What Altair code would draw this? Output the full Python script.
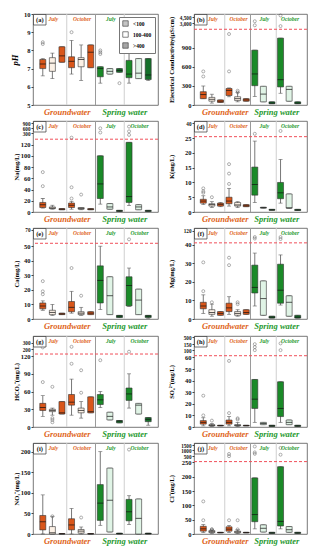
import altair as alt
import numpy as np
import pandas as pd

# ---------------- layout of the boxes ----------------
SLOTS = list(range(1, 13))
WATER = ["Groundwater"] * 6 + ["Spring water"] * 6
MONTH = (["July"] * 3 + ["October"] * 3) * 2
CLASS = ["<100", "100-400", ">400"] * 4
GROUP_X = [2, 5, 8, 11]
GROUP_LABELS = ["July", "October", "July", "October"]
GROUP_WATER = ["Groundwater", "Groundwater", "Spring water", "Spring water"]
SEP_X = [3.5, 6.5, 9.5]
LEGEND_CLASSES = ["<100", "100-400", ">400"]

# ---------------- (a) pH ----------------
PH_LOW = [6.6, 6.45, 7.35, 6.7, 6.35, 7.05, 6.2, 6.7, 6.8, 6.2, 6.45, 6.35]
PH_Q1 = [7.0, 6.85, 7.35, 7.05, 7.1, 7.05, 6.55, 6.7, 6.8, 6.5, 6.45, 6.4]
PH_MED = [7.25, 7.3, 7.7, 7.4, 7.5, 7.9, 7.0, 6.85, 6.9, 6.7, 6.75, 6.65]
PH_Q3 = [7.5, 7.6, 8.2, 7.65, 7.6, 8.3, 7.1, 7.0, 7.0, 7.45, 7.55, 7.55]
PH_HIGH = [7.55, 7.85, 8.2, 8.55, 8.3, 8.3, 7.1, 7.0, 7.0, 8.05, 7.55, 7.55]
PH_OUT = [[8.35, 8.45], [], [], [9.0], [], [], [7.8, 7.9, 8.0], [], [6.2], [], [], []]

# ---------------- (b) EC ----------------
EC_LOW = [100, 30, 40, 130, 50, 60, 135, 50, 20, 185, 60, 20]
EC_Q1 = [100, 60, 40, 150, 70, 60, 305, 50, 20, 285, 60, 20]
EC_MED = [165, 90, 60, 230, 100, 80, 490, 172, 30, 400, 246, 30]
EC_Q3 = [210, 120, 80, 260, 130, 100, 865, 295, 50, 1055, 295, 50]
EC_HIGH = [300, 170, 80, 270, 200, 100, 865, 295, 50, 1055, 295, 50]
EC_OUT = [[450, 530], [], [], [530, 1120], [200, 225], [], [2500, 3500], [], [], [2300, 4900], [], []]

# ---------------- (c) Na ----------------
NA_LOW = [7, 5, 4, 5, 4, 4, 14, 5, 1, 11.5, 4, 1]
NA_Q1 = [8, 6, 4, 8, 5, 4, 24, 5, 1, 17, 4, 1]
NA_MED = [13, 7, 5, 12, 6, 5, 50, 9, 2, 27.5, 9, 2]
NA_Q3 = [17, 9, 6, 16, 8, 6, 100, 15, 3, 124, 13, 3]
NA_HIGH = [24, 12, 6, 19, 8, 6, 100, 15, 3, 124, 13, 3]
NA_OUT = [[46, 71], [], [], [24, 44, 190], [31], [], [350, 600], [], [], [260, 420, 700], [], []]

# ---------------- (d) K ----------------
K_LOW = [2.5, 1.5, 1.8, 2.0, 1.5, 1.8, 3.2, 1.3, 0.6, 3.0, 1.3, 0.5]
K_Q1 = [3.0, 2.0, 2.0, 2.8, 2.0, 1.8, 5.7, 1.3, 0.6, 4.5, 1.3, 0.5]
K_MED = [3.7, 2.5, 2.6, 3.7, 2.4, 2.1, 9.3, 1.5, 0.7, 6.5, 1.4, 0.7]
K_Q3 = [4.3, 2.8, 3.0, 5.0, 3.2, 2.5, 15.2, 1.6, 0.9, 10.0, 6.1, 0.9]
K_HIGH = [5.5, 3.5, 3.2, 8.0, 3.5, 2.5, 24.0, 1.6, 0.9, 17.8, 6.1, 0.9]
K_OUT = [[6.5, 7.0, 8.0], [5.0], [], [9.5, 13.0, 16.2], [], [], [29.0], [], [], [32.0], [], []]

# ---------------- (e) Ca ----------------
CA_LOW = [6, 2.5, 3, 4, 2.5, 3, 6.5, 3, 1, 8.5, 3, 0.5]
CA_Q1 = [7, 3, 3, 5, 3, 3, 11, 3, 1, 9, 3, 1]
CA_MED = [9, 4.5, 3.5, 8, 4, 4, 26.5, 16, 2, 23, 13, 2]
CA_Q3 = [11, 6, 4, 12, 5, 5, 36.5, 29, 2.5, 29, 20.5, 2.5]
CA_HIGH = [12.5, 10, 4, 19, 8, 5, 50, 29, 2.5, 35, 20.5, 2.5]
CA_OUT = [[17, 19, 26], [], [], [35], [16], [], [], [], [], [58], [], []]

# ---------------- (f) Mg ----------------
MG_LOW = [3, 1.5, 2, 2.5, 1.5, 2.5, 7, 2, 0.5, 7.5, 1.5, 0.5]
MG_Q1 = [5.5, 2.5, 2, 4, 2, 2.5, 14, 2, 0.5, 8.5, 1.5, 0.5]
MG_MED = [7, 3.5, 3, 6, 3, 3.5, 17, 11, 1, 15.5, 9, 1]
MG_Q3 = [9, 5, 4, 8.5, 4, 5, 29, 20.5, 1.5, 29.5, 12.5, 2]
MG_HIGH = [13, 8, 4, 12, 5, 5, 35.5, 20.5, 1.5, 34.5, 12.5, 2]
MG_OUT = [[15, 30.5], [9], [], [29, 33], [8, 9], [], [70, 80], [], [], [67, 80], [], []]

# ---------------- (g) HCO3 ----------------
HC_LOW = [18, 20, 22, 20, 15, 24, 33, 12, 7, 32, 22, 3]
HC_Q1 = [28, 26, 22, 37, 24, 24, 38, 12, 7, 45, 22, 9]
HC_MED = [33, 28, 24, 42, 28, 26, 46, 18, 10, 56, 37, 13]
HC_Q3 = [40, 30, 43, 55, 32, 51, 55, 25, 11, 66, 40, 16]
HC_HIGH = [53, 32, 43, 81, 43, 51, 60, 25, 11, 90, 40, 16]
HC_OUT = [[76, 229], [8, 12, 15, 68], [], [107, 238], [58, 96], [], [113], [], [], [162], [], []]

# ---------------- (h) SO4 ----------------
SO_LOW = [1, 0.5, 1, 1, 0.5, 1, 4, 2, 0.5, 4, 2, 0.5]
SO_Q1 = [2.5, 1, 1, 2.5, 1, 1, 16, 2, 0.5, 9, 2, 0.5]
SO_MED = [4, 1.5, 1.2, 4, 1.5, 1.2, 24, 3, 1, 16, 4, 1]
SO_Q3 = [5.5, 2, 1.5, 6, 2, 1.5, 41, 4, 1.5, 39, 6, 1.5]
SO_HIGH = [8, 3, 1.5, 9, 4, 1.5, 41, 4, 1.5, 39, 6, 1.5]
SO_OUT = [[10, 27], [5.5], [], [12, 57], [6.5, 7.5], [], [103, 128, 165], [], [], [103, 200], [], []]

# ---------------- (i) NO3 ----------------
NO_LOW = [0, 0, 0, 0, 0, 0, 21, 5, 0, 23, 0, 0]
NO_Q1 = [10, 0, 0, 10, 2, 0, 33, 5, 0, 32, 0, 0]
NO_MED = [30, 3, 0.5, 22, 7, 0.5, 75, 82, 1, 54, 38, 1]
NO_Q3 = [45, 18, 1, 37, 11, 1, 120, 160, 2, 84, 85, 2]
NO_HIGH = [95, 43, 1, 62, 17, 1, 200, 160, 2, 93, 85, 2]
NO_OUT = [[], [43], [], [], [40], [], [], [], [], [205], [], []]

# ---------------- (j) Cl ----------------
CL_LOW = [5, 2, 4, 5, 2, 4, 18, 7, 2, 18, 6, 2]
CL_Q1 = [10, 5, 4, 10, 4, 4, 43, 7, 2, 28, 6, 2]
CL_MED = [18, 8, 5, 17, 7, 5, 68, 20, 4, 44, 15, 4]
CL_Q3 = [27, 12, 6, 25, 10, 6, 196, 32, 6, 235, 26, 6]
CL_HIGH = [33, 15, 6, 30, 15, 6, 196, 32, 6, 235, 26, 6]
CL_OUT = [[48, 114], [15, 17], [], [48, 500, 690], [16, 48], [], [700, 830, 1360], [], [], [625, 1230], [], []]

# ---------------- broken y axes: lower ticks, break, upper segment ----------------
PANELS = [
    dict(tag="(a)", title="pH", italic=True, low=PH_LOW, q1=PH_Q1, med=PH_MED, q3=PH_Q3, high=PH_HIGH, out=PH_OUT,
         top=10, bottom=5, ticks=[5, 6, 7, 8, 9, 10], brk=None, up_real=None, up_disp=None, up_ticks=[], up_labels=[]),
    dict(tag="(b)", title="Electrical Conductivity(μS/cm)", italic=False, low=EC_LOW, q1=EC_Q1, med=EC_MED, q3=EC_Q3, high=EC_HIGH, out=EC_OUT,
         top=1436, bottom=0, ticks=[0, 300, 600, 900], brk=1195, up_real=[1500, 3000, 4500, 5250], up_disp=[1195, 1289, 1387, 1436],
         up_ticks=[3000, 4500], up_labels=["3,000", "4,500"]),
    dict(tag="(c)", title="Na(mg/L)", italic=False, low=NA_LOW, q1=NA_Q1, med=NA_MED, q3=NA_Q3, high=NA_HIGH, out=NA_OUT,
         top=162, bottom=0, ticks=[0, 20, 40, 60, 80, 100, 120], brk=129.6, up_real=[150, 300, 600, 900, 1000], up_disp=[129.6, 140, 149, 158, 162],
         up_ticks=[300, 600, 900], up_labels=["300", "600", "900"]),
    dict(tag="(d)", title="K(mg/L)", italic=False, low=K_LOW, q1=K_Q1, med=K_MED, q3=K_Q3, high=K_HIGH, out=K_OUT,
         top=30.8, bottom=0, ticks=[0, 5, 10, 15, 20, 25], brk=25.5, up_real=[26, 40, 42], up_disp=[25.5, 30.0, 30.8],
         up_ticks=[40], up_labels=["40"]),
    dict(tag="(e)", title="Ca(mg/L)", italic=False, low=CA_LOW, q1=CA_Q1, med=CA_MED, q3=CA_Q3, high=CA_HIGH, out=CA_OUT,
         top=62.5, bottom=0, ticks=[0, 10, 20, 30, 40, 50], brk=52, up_real=[53, 70, 72], up_disp=[52, 61.2, 62.5],
         up_ticks=[70], up_labels=["70"]),
    dict(tag="(f)", title="Mg(mg/L)", italic=False, low=MG_LOW, q1=MG_Q1, med=MG_MED, q3=MG_Q3, high=MG_HIGH, out=MG_OUT,
         top=49, bottom=0, ticks=[0, 10, 20, 30, 40], brk=41, up_real=[42, 120, 130], up_disp=[41, 47.4, 49],
         up_ticks=[120], up_labels=["120"]),
    dict(tag="(g)", title="HCO₃⁻(mg/L)", italic=False, low=HC_LOW, q1=HC_Q1, med=HC_MED, q3=HC_Q3, high=HC_HIGH, out=HC_OUT,
         top=154, bottom=0, ticks=[0, 30, 60, 90, 120], brk=123.5, up_real=[125, 200, 300, 400], up_disp=[123.5, 131.5, 142.5, 154],
         up_ticks=[200, 300], up_labels=["200", "300"]),
    dict(tag="(h)", title="SO₄²⁻(mg/L)", italic=False, low=SO_LOW, q1=SO_Q1, med=SO_MED, q3=SO_Q3, high=SO_HIGH, out=SO_OUT,
         top=78.5, bottom=0, ticks=[0, 10, 20, 30, 40, 50, 60], brk=61.5, up_real=[62, 100, 150, 500, 600], up_disp=[61.5, 66, 71.2, 77.6, 78.5],
         up_ticks=[100, 150, 500], up_labels=["100", "150", "500"]),
    dict(tag="(i)", title="NO₃⁻(mg/L)", italic=False, low=NO_LOW, q1=NO_Q1, med=NO_MED, q3=NO_Q3, high=NO_HIGH, out=NO_OUT,
         top=221, bottom=0, ticks=[0, 50, 100, 150, 200], brk=None, up_real=None, up_disp=None, up_ticks=[], up_labels=[]),
    dict(tag="(j)", title="Cl⁻(mg/L)", italic=False, low=CL_LOW, q1=CL_Q1, med=CL_MED, q3=CL_Q3, high=CL_HIGH, out=CL_OUT,
         top=318, bottom=0, ticks=[0, 50, 100, 150, 200, 250], brk=253, up_real=[260, 500, 1000, 1500, 1800], up_disp=[254, 272, 292, 311, 318],
         up_ticks=[500, 1000, 1500], up_labels=["500", "1000", "1500"]),
]

# ---------------- styling ----------------
FONT = "Liberation Serif"
ORANGE = "#e0641a"
GREEN = "#1f9a2f"
BOX_FILL = ["#d9561a", "#fcf1e6", "#d9561a"] * 2 + ["#1a8a28", "#e0f4e6", "#15702a"] * 2
H = 91
COL_W = [125, 113]
COL_EXTENT = [12, 18]


def to_disp(v, p):
    if p["up_real"] is None or v <= p["up_real"][0]:
        return float(v)
    return float(np.interp(v, p["up_real"], p["up_disp"]))


def panel(p, col, show_legend=False):
    boxes = pd.DataFrame({
        "slot": SLOTS, "water": WATER, "month": MONTH, "cls": CLASS,
        "low": p["low"], "q1": p["q1"], "med": p["med"], "q3": p["q3"], "high": p["high"],
        "fill": BOX_FILL,
    })
    outs = pd.DataFrame([
        {"slot": s, "value": v, "pos": to_disp(v, p)}
        for s, vals in zip(SLOTS, p["out"]) for v in vals
    ])
    up_pos = [to_disp(t, p) for t in p["up_ticks"]]
    values = list(p["ticks"]) + up_pos
    expr = "toString(datum.value)"
    for d, lab in zip(up_pos, p["up_labels"]):
        expr = f"abs(datum.value - {d:.4f}) < 0.01 ? '{lab}' : ({expr})"
    brk_level = p["brk"] if p["brk"] is not None else p["top"] + 1
    label_size = {"expr": f"datum.value > {brk_level} ? 5.2 : 6.5"}

    xscale = alt.Scale(domain=[0.5, 12.5], nice=False, zero=False)
    yscale = alt.Scale(domain=[p["bottom"], p["top"]], nice=False, zero=False)
    xaxis = alt.Axis(
        values=[3.5, 9.5], title=None, ticks=False, domain=False, grid=False,
        labelExpr="datum.value < 6 ? 'Groundwater' : 'Spring water'",
        labelColor={"expr": f"datum.value < 6 ? '{ORANGE}' : '{GREEN}'"},
        labelFont=FONT, labelFontSize=8.5, labelFontStyle="italic", labelFontWeight="bold",
        labelPadding=2, labelAngle=0,
    )
    yaxis = alt.Axis(
        values=values, labelExpr=expr, title=p["title"], grid=False,
        labelOverlap=False, labelFlush=False, labelBound=False, labelFontSize=label_size,
        titleFontStyle="italic" if p["italic"] else "normal",
        titleFontSize=8.5 if p["italic"] else 6.5,
        minExtent=COL_EXTENT[col], maxExtent=COL_EXTENT[col], titlePadding=2,
    )
    X = alt.X("slot:Q", scale=xscale, axis=xaxis)

    seps = pd.DataFrame({"x": SEP_X, "c": ["#cfcfcf", "#9a9a9a", "#cfcfcf"]})
    sep = alt.Chart(seps).mark_rule(strokeWidth=1).encode(
        x=alt.X("x:Q", scale=xscale, axis=xaxis), stroke=alt.Stroke("c:N", scale=None))

    layers = [sep]
    if p["brk"] is not None:
        brk = alt.Chart(pd.DataFrame({"y": [p["brk"]]})).mark_rule(
            stroke="#f0505a", strokeDash=[3, 2], strokeWidth=1).encode(
            y=alt.Y("y:Q", scale=yscale, axis=yaxis))
        layers.append(brk)

    base = alt.Chart(boxes)
    whisk = base.mark_rule(stroke="#555555", strokeWidth=0.8).encode(
        x=X, y=alt.Y("low:Q", scale=yscale, axis=yaxis), y2="high:Q")
    cap_lo = base.mark_tick(orient="horizontal", size=4, thickness=0.8, fill="#555555").encode(
        x=X, y=alt.Y("low:Q", scale=yscale, axis=yaxis))
    cap_hi = base.mark_tick(orient="horizontal", size=4, thickness=0.8, fill="#555555").encode(
        x=X, y=alt.Y("high:Q", scale=yscale, axis=yaxis))
    box = base.mark_bar(size=6, stroke="#333333", strokeWidth=0.6).encode(
        x=X, y=alt.Y("q1:Q", scale=yscale, axis=yaxis), y2="q3:Q",
        fill=alt.Fill("fill:N", scale=None))
    med = base.mark_tick(orient="horizontal", size=6, thickness=1, fill="#111111").encode(
        x=X, y=alt.Y("med:Q", scale=yscale, axis=yaxis))
    layers += [whisk, cap_lo, cap_hi, box, med]

    if len(outs):
        pts = alt.Chart(outs).mark_point(shape="circle", size=9, filled=False,
                                        stroke="#444444", strokeWidth=0.6).encode(
            x=alt.X("slot:Q", scale=xscale, axis=xaxis),
            y=alt.Y("pos:Q", scale=yscale, axis=yaxis))
        layers.append(pts)

    groups = pd.DataFrame({"x": GROUP_X, "lab": GROUP_LABELS,
                           "c": [ORANGE, ORANGE, GREEN, GREEN]})
    glab = alt.Chart(groups).mark_text(font=FONT, fontSize=5.5, fontStyle="italic",
                                       fontWeight="bold", baseline="middle", dx=1).encode(
        x=alt.X("x:Q", scale=xscale, axis=xaxis), y=alt.value(5),
        text="lab:N", fill=alt.Fill("c:N", scale=None))
    layers.append(glab)

    tagdf = pd.DataFrame({"t": [p["tag"]]})
    tag_box = alt.Chart(tagdf).mark_rect(fill="white", stroke="#333333", strokeWidth=0.7).encode(
        x=alt.value(0.5), x2=alt.value(13), y=alt.value(0.5), y2=alt.value(11))
    tag_txt = alt.Chart(tagdf).mark_text(font=FONT, fontSize=6.5, fontWeight="bold",
                                         baseline="middle", fill="#111111").encode(
        x=alt.value(6.8), y=alt.value(6), text="t:N")
    layers += [tag_box, tag_txt]

    if show_legend:
        leg = pd.DataFrame({"cls": LEGEND_CLASSES, "slot": [11, 11, 11], "v": [p["bottom"]] * 3})
        legl = alt.Chart(leg).mark_square(opacity=0, size=1).encode(
            x=alt.X("slot:Q", scale=xscale, axis=xaxis),
            y=alt.Y("v:Q", scale=yscale, axis=yaxis),
            color=alt.Color("cls:N", sort=LEGEND_CLASSES,
                            scale=alt.Scale(domain=LEGEND_CLASSES, range=["#c4c4c4", "#ffffff", "#a6a6a6"]),
                            legend=alt.Legend(title=None, orient="top-right", offset=3,
                                              symbolType="square", symbolSize=30, symbolOpacity=1,
                                              symbolStrokeColor="#333333", symbolStrokeWidth=0.6,
                                              labelFont=FONT, labelFontSize=5.5, labelFontWeight="bold",
                                              rowPadding=2, padding=3, strokeColor="#777777",
                                              fillColor="white")))
        layers.append(legl)

    return alt.layer(*layers).properties(width=COL_W[col], height=H)


rows = []
for i in range(0, 10, 2):
    rows.append(alt.hconcat(panel(PANELS[i], 0, show_legend=(i == 0)), panel(PANELS[i + 1], 1),
                            spacing=8).resolve_scale(color="independent"))

chart = alt.vconcat(*rows, spacing=4).resolve_scale(color="independent").properties(
    padding={"left": 1, "right": 1, "top": 2, "bottom": 1}
).configure_view(stroke="#555555", strokeWidth=0.8).configure_axis(
    labelFont=FONT, titleFont=FONT, labelFontWeight="bold",
    titleFontWeight="bold", tickSize=2, tickColor="#444444", labelColor="#111111",
    labelPadding=1, domain=False, grid=False,
)

chart.save("out.html", embed_options={"renderer": "svg", "actions": False})
